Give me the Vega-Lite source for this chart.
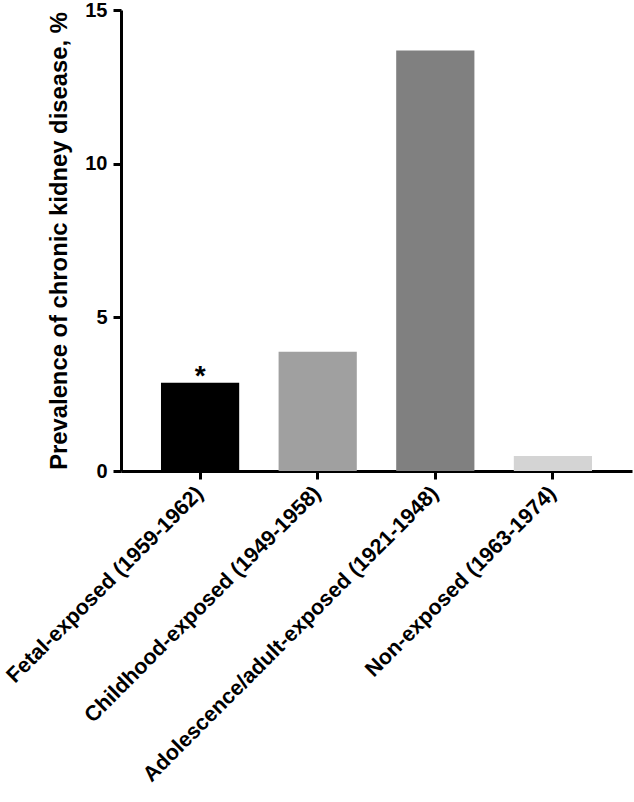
{
  "$schema": "https://vega.github.io/schema/vega-lite/v6.json",
  "width": 511,
  "height": 461,
  "autosize": {"type": "none"},
  "padding": {"left": 121, "top": 10, "right": 2, "bottom": 331},
  "config": {"view": {"stroke": null}, "font": "Liberation Sans"},
  "data": {
    "values": [
      {"group": "Fetal-exposed (1959-1962)", "prevalence": 2.87, "note": "*", "shade": "Fetal"},
      {"group": "Childhood-exposed (1949-1958)", "prevalence": 3.88, "note": "", "shade": "Childhood"},
      {"group": "Adolescence/adult-exposed (1921-1948)", "prevalence": 13.68, "note": "", "shade": "Adolescence"},
      {"group": "Non-exposed (1963-1974)", "prevalence": 0.49, "note": "", "shade": "Non"}
    ]
  },
  "encoding": {
    "x": {
      "field": "group",
      "type": "nominal",
      "sort": null,
      "scale": {"paddingInner": 0.335, "paddingOuter": 0.34},
      "axis": {
        "title": null,
        "domainColor": "#000000",
        "domainWidth": 3,
        "tickColor": "#000000",
        "tickWidth": 3,
        "tickSize": 8,
        "labelAngle": -45,
        "labelAlign": "right",
        "labelBaseline": "middle",
        "labelFontSize": 21.5,
        "labelFontWeight": "bold",
        "labelColor": "#000000",
        "labelPadding": 11,
        "labelLimit": 0
      }
    }
  },
  "layer": [
    {
      "mark": {"type": "bar"},
      "encoding": {
        "y": {
          "field": "prevalence",
          "type": "quantitative",
          "scale": {"domain": [0, 15], "nice": false},
          "axis": {
            "values": [0, 5, 10, 15],
            "grid": false,
            "title": "Prevalence of chronic kidney disease, %",
            "titleFontSize": 23.8,
            "titleFontWeight": "bold",
            "titleColor": "#000000",
            "titlePadding": 13,
            "domainColor": "#000000",
            "domainWidth": 3,
            "tickColor": "#000000",
            "tickWidth": 3,
            "tickSize": 8,
            "labelFontSize": 20,
            "labelFontWeight": "bold",
            "labelColor": "#000000",
            "labelPadding": 6
          }
        },
        "color": {
          "field": "shade",
          "type": "nominal",
          "scale": {
            "domain": ["Fetal", "Childhood", "Adolescence", "Non"],
            "range": ["#000000", "#a0a0a0", "#808080", "#d4d4d4"]
          },
          "legend": null
        }
      }
    },
    {
      "mark": {"type": "text", "fontSize": 28, "fontWeight": "bold", "baseline": "alphabetic", "dy": 2, "color": "#000000"},
      "encoding": {
        "y": {"field": "prevalence", "type": "quantitative"},
        "text": {"field": "note"}
      }
    }
  ]
}
